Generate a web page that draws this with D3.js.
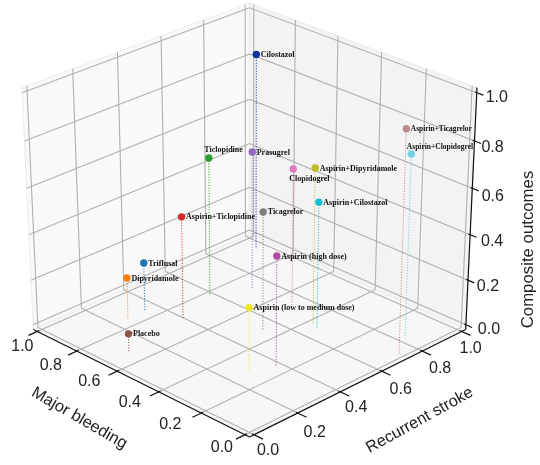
<!DOCTYPE html>
<html><head><meta charset="utf-8"><script src="https://cdn.jsdelivr.net/npm/d3@7"></script>
<style>html,body{margin:0;padding:0;background:#fff}svg{display:block;filter:blur(.35px)}</style></head><body>
<svg id="c" width="540" height="465"></svg>
<script>
const names=["Cilostazol","Prasugrel","Ticlopidine","Aspirin+Ticlopidine","Ticagrelor","Triflusal","Dipyridamole","Placebo","Aspirin (low to medium dose)","Aspirin (high dose)","Clopidogrel","Aspirin+Dipyridamole","Aspirin+Cilostazol","Aspirin+Ticagrelor","Aspirin+Clopidogrel"];
const recurrentStroke=[.928,.696,.560,.370,.500,.318,.237,.072,.262,.350,.697,.657,.640,.707,.804];
const majorBleeding=[.895,.683,.754,.691,.436,.826,.824,.642,.264,.225,.490,.351,.316,.000,.061];
const composite=[.873,.611,.610,.453,.524,.216,.184,.085,.282,.482,.611,.683,.558,.959,.796];
const colors=["#0a2f9e","#9467bd","#2ca02c","#d62728","#7f7f7f","#1f77b4","#ff7f0e","#8c564b","#f2e51e","#b5479f","#e377c2","#bcbd22","#17becf","#c08a8a","#70cfe4"];
const labelPlace=["r","r","a","r","r","r","r","r","r","r","b","r","r","r","a"];
const labelSize=[8,8,8,8,8,8,8,8,8,8,8,8,8,7.4,7.5];
const ticks=[0,.2,.4,.6,.8,1];
const tickText=ticks.map(d3.format(".1f"));

const el=29.3*Math.PI/180, az=225*Math.PI/180, dist=10, d=1/48;
const n=[Math.cos(el)*Math.cos(az),Math.cos(el)*Math.sin(az),Math.sin(el)];
const r=[-Math.sin(az),Math.cos(az),0];
const u=[n[1]*r[2]-n[2]*r[1],n[2]*r[0]-n[0]*r[2],n[0]*r[1]-n[1]*r[0]];
const world=d3.scaleLinear([0,1],[-.5,.5]);
const sxs=d3.scaleLinear([-1,1],[249.5-301,249.5+301]);
const sys=d3.scaleLinear([-1,1],[211.6+266,211.6-266]);
function proj(x,y,z){const p=[world(x),world(y),world(z)];const dot=a=>a[0]*p[0]+a[1]*p[1]+a[2]*p[2];const f=1/(1-dot(n)/dist);return [sxs(dot(r)*f),sys(dot(u)*f)];}
const path=d3.line();
const svg=d3.select("#c");
const lo=-d,hi=1+d;
function poly(pts,fill){svg.append("path").attr("d",path(pts.map(p=>proj(...p)))+"Z").attr("fill",fill).attr("stroke","#ececec").attr("stroke-width",1);}
poly([[lo,hi,lo],[hi,hi,lo],[hi,hi,hi],[lo,hi,hi]],"#f9f9f9");
poly([[hi,lo,lo],[hi,hi,lo],[hi,hi,hi],[hi,lo,hi]],"#f3f3f3");
poly([[lo,lo,lo],[hi,lo,lo],[hi,hi,lo],[lo,hi,lo]],"#f7f7f7");
function seg(a,b,col,w){return svg.append("path").attr("d",path([proj(...a),proj(...b)])).attr("stroke",col).attr("stroke-width",w).attr("fill","none");}
const gc="#b0b0b0",gw=1.1;
ticks.forEach(v=>{
  seg([v,lo,lo],[v,hi,lo],gc,gw); seg([lo,v,lo],[hi,v,lo],gc,gw);
  seg([v,hi,lo],[v,hi,hi],gc,gw); seg([lo,hi,v],[hi,hi,v],gc,gw);
  seg([hi,v,lo],[hi,v,hi],gc,gw); seg([hi,lo,v],[hi,hi,v],gc,gw);
});
const ac="#111",aw=1.2;
seg([lo,lo,lo],[hi,lo,lo],ac,aw); seg([lo,lo,lo],[lo,hi,lo],ac,aw); seg([hi,lo,lo],[hi,lo,hi],ac,aw);
const out=.04,inn=.008;
const xNudge=[[14,15],[17,18],[16,15],[19,17],[18,16],[9,16]];
const yNudge=[[-23,12],[-31,10],[-29,10],[-28,9],[-26,13],[-15,14]];
const zNudge=[[23,4],[20,5.5],[22,6],[20.5,7],[18,6],[20,4]];
function txt(p,s,o){svg.append("text").attr("x",p[0]+o[0]).attr("y",p[1]+o[1]).attr("text-anchor","middle").attr("font-family","Liberation Sans").attr("font-size",16).attr("fill","#222").attr("dominant-baseline","central").text(s);}
ticks.forEach((v,i)=>{
  seg([v,lo-out,lo],[v,lo+inn,lo],ac,aw);
  seg([lo-out,v,lo],[lo+inn,v,lo],ac,aw);
  seg([hi,lo-out*.7,v],[hi,lo+inn,v],ac,aw);
  txt(proj(v,lo,lo),tickText[i],xNudge[i]);
  txt(proj(lo,v,lo),tickText[i],yNudge[i]);
  txt(proj(hi,lo,v),tickText[i],zNudge[i]);
});
function axisLabel(s,x,y,a,fs){svg.append("text").attr("transform",`translate(${x},${y}) rotate(${a})`).attr("text-anchor","middle").attr("dominant-baseline","central").attr("font-family","Liberation Sans").attr("font-size",fs).attr("fill","#222").text(s);}
axisLabel("Major bleeding",80,417,30,16.4);
axisLabel("Recurrent stroke",419,419,-29,16.2);
axisLabel("Composite outcomes",527,249.5,-90,16.8);
names.forEach((name,i)=>{
  const x=recurrentStroke[i],y=majorBleeding[i],z=composite[i],q=proj(x,y,z),b=proj(x,y,0);
  svg.append("path").attr("d",path([q,b])).attr("stroke",colors[i]).attr("stroke-width",1).attr("stroke-dasharray","1.2 1.5").attr("opacity",.9);
});
names.forEach((name,i)=>{
  const q=proj(recurrentStroke[i],majorBleeding[i],composite[i]);
  svg.append("circle").attr("cx",q[0]).attr("cy",q[1]).attr("r",3.7).attr("fill",colors[i]);
  const pl=labelPlace[i],dx=pl=="r"?4.5:pl=="a"?-4.5:-4,dy=pl=="r"?0:pl=="a"?-8:9.5;
  svg.append("text").attr("x",q[0]+dx).attr("y",q[1]+dy).attr("dominant-baseline","central").attr("font-family","Liberation Serif").attr("font-weight","bold").attr("font-size",labelSize[i]).attr("fill","#111").text(name);
});
</script></body></html>
